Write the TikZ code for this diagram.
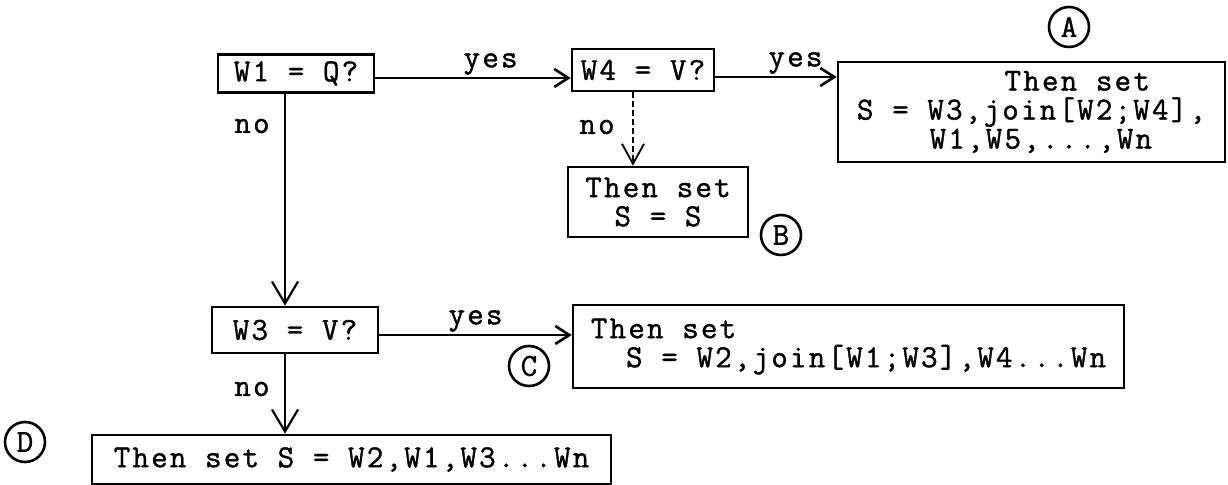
\documentclass[tikz,border=0pt]{standalone}
\usepackage{fontspec}
\setmonofont[LetterSpace=7,FakeBold=1.2]{Latin Modern Mono}
\usetikzlibrary{arrows.meta,calc}
\begin{document}
\begin{tikzpicture}[x=0.5pt,y=-0.5pt,
  font=\ttfamily\fontsize{16}{14.5}\selectfont,
  box/.style={draw,line width=1.3pt,inner sep=1pt,anchor=center},
  circ/.style={draw,circle,line width=1.3pt,minimum size=20pt,inner sep=0pt},
  lbl/.style={inner sep=1pt},
  varr/.style={line width=1.1pt,-{Straight Barb[length=11pt,width=13pt,line width=1.1pt]}},
  harr/.style={line width=1.3pt,-{Straight Barb[length=7pt,width=9pt,line width=1.3pt]}},
  dasharr/.style={line width=0.9pt,dash pattern=on 3pt off 1.5pt,-{Straight Barb[length=10pt,width=11pt,line width=0.9pt]}}]
\useasboundingbox (0,0) rectangle (1228,485);
% boxes
\node[box,minimum width=78pt,minimum height=19pt] (W1) at (296,73.5) {W1 = Q?};
\node[box,minimum width=71pt,minimum height=21pt] (W4) at (643,70) {W4 = V?};
\node[box,minimum width=193.5pt,minimum height=50pt,align=left] (A) at (1031.5,112)
  {\phantom{XXXXXXXX}Then set\\S = W3,join[W2;W4],\\\phantom{XXXX}W1,W5,...,Wn};
\node[box,minimum width=90pt,minimum height=35pt,align=center] (B) at (658,202) {Then set\\S = S};
\node[box,minimum width=83pt,minimum height=23pt] (W3) at (295,330) {W3 = V?};
\node[box,minimum width=275.5pt,minimum height=41.5pt,align=left] (C) at (848.5,346.5)
  {Then set\\\phantom{XX}S = W2,join[W1;W3],W4...Wn};
\node[box,minimum width=259.5pt,minimum height=24.5pt] (D) at (351.5,459.5) {Then set S = W2,W1,W3...Wn};
% circled letters
\node[circ] (cA) at (1069,27) {A};
\node[circ] (cB) at (781,235) {B};
\node[circ] (cC) at (529,366) {C};
\node[circ] (cD) at (25,442) {D};
% columns and arrow rows
\coordinate (col1) at (285,0);
\coordinate (col2) at (633,0);
\coordinate (row1) at (0,78);
\coordinate (row2) at (0,77);
\coordinate (row3) at (0,335);
% connectors
\draw[harr] (W1.east |- row1) -- node[lbl,pos=0.59,above] {yes} (W4.west |- row1);
\draw[harr] (W4.east |- row2) -- node[lbl,pos=0.66,above] {yes} (A.west |- row2);
\draw[harr] (W3.east |- row3) -- node[lbl,pos=0.5,above] {yes} (C.west |- row3);
\draw[varr] (W1.south -| col1) -- (W3.north -| col1);
\draw[varr] (W3.south -| col1) -- (D.north -| col1);
\draw[dasharr] (W4.south -| col2) -- (B.north -| col2);
% no labels
\node[lbl] (no1) at (252,126) {no};
\node[lbl] (no2) at (597,127) {no};
\node[lbl] (no3) at (252,389) {no};
\end{tikzpicture}
\end{document}
